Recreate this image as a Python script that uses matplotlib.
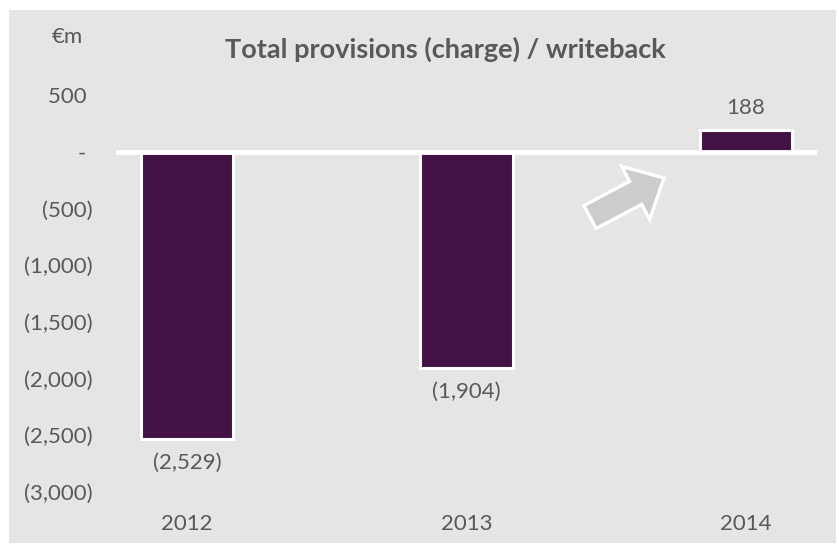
import matplotlib
matplotlib.use("Agg")
import matplotlib.pyplot as plt
from matplotlib.patches import Rectangle, FancyArrow
from matplotlib.transforms import Affine2D

years = ["2012", "2013", "2014"]
values = [-2529, -1904, 188]
value_labels = ["(2,529)", "(1,904)", "188"]
yticks = [500, 0, -500, -1000, -1500, -2000, -2500, -3000]
ytick_labels = ["500 ", "- ", "(500)", "(1,000)", "(1,500)", "(2,000)", "(2,500)", "(3,000)"]

W, H = 839, 544
plt.rcParams['font.family'] = ['Lato', 'DejaVu Sans']
text_color = "#595959"
bar_color = "#431245"
bg = "#e5e5e5"
fs = 16

fig = plt.figure(figsize=(W / 100, H / 100), dpi=100)
fig.patch.set_facecolor("white")
# gray panel
fig.patches.append(Rectangle((9 / W, 1 / H), (836 - 9) / W, (533) / H,
                             transform=fig.transFigure, facecolor=bg, edgecolor="none", zorder=0))

ax = fig.add_axes([116 / W, 52 / H, (817 - 116) / W, (449 - 52) / H])
ax.set_zorder(2)
ax.set_facecolor("none")
x = list(range(len(years)))
ax.bar(x, values, width=0.33, color=bar_color, edgecolor="white", linewidth=2.2, zorder=2)
ax.axhline(0, color="white", linewidth=3.5, zorder=3)
ax.set_xlim(-0.254, 2.254)
ax.set_ylim(-3000, 500)
ax.set_yticks(yticks)
ax.set_yticklabels(ytick_labels)
ax.set_xticks(x)
ax.set_xticklabels(years)
for s in ax.spines.values():
    s.set_visible(False)
ax.tick_params(axis="both", length=0, labelsize=fs, colors=text_color)
ax.tick_params(axis="y", pad=17)
ax.tick_params(axis="x", pad=16)

for xi, v, lab in zip(x, values, value_labels):
    if v < 0:
        ax.annotate(lab, (xi, v), xytext=(0, -10), textcoords="offset points",
                    ha="center", va="top", fontsize=fs, color=text_color)
    else:
        ax.annotate(lab, (xi, v), xytext=(0, 9), textcoords="offset points",
                    ha="center", va="bottom", fontsize=fs, color=text_color)

fig.text(67 / W, 1 - 37 / H, "€m", ha="center", va="center", fontsize=fs, color=text_color)
fig.text(445 / W, 1 - 49 / H, "Total provisions (charge) / writeback", ha="center", va="center",
         fontsize=19.5, fontweight="bold", color=text_color)

# decorative arrow in pixel coordinates
pix = Affine2D().scale(1 / W, -1 / H).translate(0, 1) + fig.transFigure
arrow = FancyArrow(590, 217, 74, -39, width=26, head_width=60, head_length=32,
                   length_includes_head=True, transform=pix, facecolor="#cccccc",
                   edgecolor="white", linewidth=2.4, zorder=5)
fig.patches.append(arrow)

fig.savefig("out.png", dpi=100)
